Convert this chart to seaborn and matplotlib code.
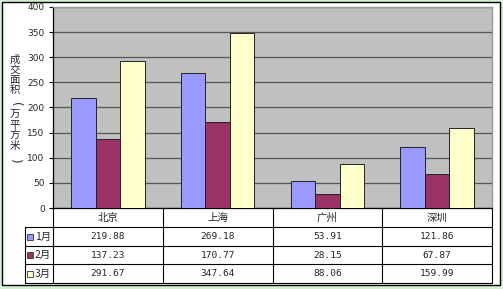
import matplotlib
matplotlib.use("Agg")
import matplotlib.pyplot as plt
import seaborn as sns
import pandas as pd
from matplotlib.patches import Rectangle
from matplotlib.lines import Line2D

cities = ["北京", "上海", "广州", "深圳"]
months = ["1月", "2月", "3月"]
jan = [219.88, 269.18, 53.91, 121.86]
feb = [137.23, 170.77, 28.15, 67.87]
mar = [291.67, 347.64, 88.06, 159.99]
colors = ["#9999FF", "#993366", "#FFFFCC"]
yticks = [0, 50, 100, 150, 200, 250, 300, 350, 400]
ylabel = "成交面积（万平方米）"

series = [jan, feb, mar]
df = pd.DataFrame({
    "city": [c for s in series for c in cities],
    "month": [m for m, s in zip(months, series) for _ in cities],
    "value": [v for s in series for v in s],
})

sns.set_theme(style="white")
plt.rcParams['font.family'] = ['Noto Sans CJK SC', 'DejaVu Sans']

W, H = 503, 289
fig = plt.figure(figsize=(W / 100, H / 100), dpi=100)
fig.patch.set_facecolor("#D4EFD4")

def fx(x): return x / W
def fy(y): return 1 - y / H

# white frame with black border
fig.add_artist(Rectangle((fx(2), fy(285)), fx(498), (283) / H, transform=fig.transFigure,
                         facecolor="white", edgecolor="black", linewidth=1.0, zorder=0))

L, R, T, B = 53, 492, 7, 208
ax = fig.add_axes([fx(L), fy(B), fx(R - L), (B - T) / H])
ax.set_facecolor("#C0C0C0")
sns.barplot(data=df, x="city", y="value", hue="month", palette=colors, order=cities,
            hue_order=months, width=0.67, edgecolor="#222222", linewidth=0.7,
            saturation=1, ax=ax, legend=False, zorder=3)
ax.set_ylim(0, 400)
ax.set_xlim(-0.5, 3.5)
ax.set_yticks(yticks)
ax.set_yticklabels([str(t) for t in yticks], fontsize=6.5, family="DejaVu Sans")
ax.yaxis.grid(True, color="#555555", linewidth=0.9, zorder=0)
ax.set_axisbelow(True)
ax.tick_params(axis="y", length=3, width=0.8, color="black", pad=3, left=True)
ax.set_xticks([])
ax.set_xlabel("")
ax.set_ylabel("")
for s in ["top", "right"]:
    ax.spines[s].set_color("#999999")
    ax.spines[s].set_linewidth(1.0)
ax.spines["left"].set_color("black")
ax.spines["left"].set_linewidth(0.9)
ax.spines["bottom"].set_color("black")
ax.spines["bottom"].set_linewidth(0.9)

# vertical stacked y label, parentheses rotated
label_y = [60, 70, 80, 90, 104, 115, 125, 135, 146, 160]
for ch, yy in zip(ylabel, label_y):
    if ch in "（）":
        fig.text(fx(15), fy(yy), "(" if ch == "（" else ")", ha="center", va="center",
                 fontsize=8.5, rotation=-90, rotation_mode="anchor", family="DejaVu Sans")
    else:
        fig.text(fx(15), fy(yy), ch, ha="center", va="center", fontsize=7.5,
                 family=['Noto Sans CJK SC', 'DejaVu Sans'])

# data table
rows_y = [208, 227, 246, 264, 283]
col_x = [L, 163, 273, 382, R]
lw = 0.8
def hline(y, x0, x1):
    fig.add_artist(Line2D([fx(x0), fx(x1)], [fy(y), fy(y)], transform=fig.transFigure,
                          color="black", linewidth=lw))
def vline(x, y0, y1):
    fig.add_artist(Line2D([fx(x), fx(x)], [fy(y0), fy(y1)], transform=fig.transFigure,
                          color="black", linewidth=lw))

for y in rows_y[1:]:
    hline(y, 25, R)
for x in col_x:
    vline(x, 208, 283)
vline(25, 227, 283)

for i, c in enumerate(cities):
    cx = (col_x[i] + col_x[i + 1]) / 2
    fig.text(fx(cx), fy(218), c, ha="center", va="center", fontsize=7.5)
    for j, s in enumerate(series):
        ry = (rows_y[j + 1] + rows_y[j + 2]) / 2
        fig.text(fx(cx), fy(ry), f"{s[i]:.2f}", ha="center", va="center",
                 fontsize=6.8, family="DejaVu Sans Mono")

for j, m in enumerate(months):
    ry = (rows_y[j + 1] + rows_y[j + 2]) / 2
    fig.add_artist(Rectangle((fx(27), fy(ry + 3)), fx(6), 6 / H, transform=fig.transFigure,
                             facecolor=colors[j], edgecolor="#333333", linewidth=0.6))
    fig.text(fx(35), fy(ry), m, ha="left", va="center", fontsize=7.5)

fig.savefig("out.png", dpi=100, facecolor=fig.get_facecolor())
